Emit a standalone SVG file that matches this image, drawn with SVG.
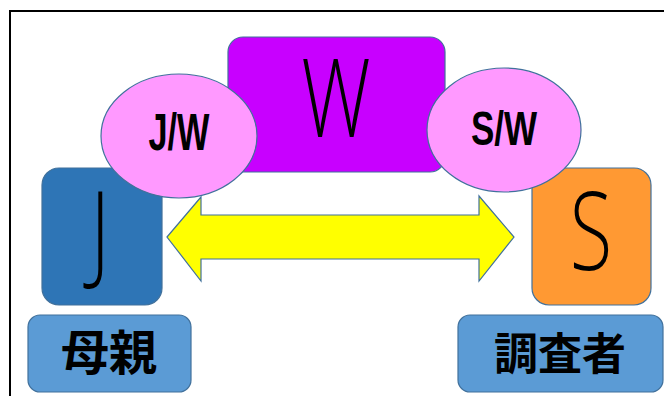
<svg xmlns="http://www.w3.org/2000/svg" width="664" height="396" viewBox="0 0 664 396">
  <style>
    .edge { stroke: #41719C; stroke-width: 1.2; }
    .big { font-family: "Open Sans", "Liberation Sans", sans-serif; font-weight: 300; font-size: 108px; fill: #000; text-anchor: middle; }
    .mid { font-family: "Liberation Sans", "DejaVu Sans", sans-serif; font-weight: bold; fill: #000; text-anchor: middle; }
    .cjk { font-family: "Noto Sans CJK JP", "Noto Sans CJK SC", sans-serif; font-weight: bold; fill: #000; text-anchor: middle; }
  </style>
  <rect x="0" y="0" width="664" height="396" fill="#FFFFFF"/>
  <!-- outer frame, open to the right and bottom -->
  <rect x="10" y="11" width="670" height="400" fill="none" stroke="#000" stroke-width="2"/>

  <g id="node-W">
    <rect class="edge" x="228" y="37" width="217" height="135" rx="15" fill="#C800FF"/>
    <text class="big" transform="translate(336 137) scale(0.72 1)">W</text>
  </g>

  <g id="connectors">
    <polygon class="edge" fill="#FFFF00" points="167,237 201,197 201,215 479,215 479,196 514,237 479,281 479,259 201,259 201,281"/>
  </g>

  <g id="node-J">
    <rect class="edge" x="42" y="168" width="120" height="137" rx="17" fill="#2E75B6"/>
    <text class="big" transform="translate(100 269) scale(0.72 1)">J</text>
  </g>

  <g id="node-S">
    <rect class="edge" x="532" y="168" width="119" height="137" rx="17" fill="#FF9933"/>
    <text class="big" transform="translate(591 270) scale(0.72 1)">S</text>
  </g>

  <g id="node-JW">
    <ellipse class="edge" cx="179" cy="136" rx="78" ry="62" fill="#FF99FF"/>
    <text class="mid" font-size="52" transform="translate(179 150) scale(0.66 1)">J/W</text>
  </g>

  <g id="node-SW">
    <ellipse class="edge" cx="504" cy="130" rx="77" ry="62" fill="#FF99FF"/>
    <text class="mid" font-size="48" transform="translate(504 145) scale(0.73 1)">S/W</text>
  </g>

  <g id="label-mother">
    <rect class="edge" x="28" y="315" width="163" height="77" rx="12" fill="#5B9BD5"/>
    <text class="cjk" x="109" y="370" font-size="48">母親</text>
  </g>

  <g id="label-investigator">
    <rect class="edge" x="458" y="315" width="205" height="77" rx="12" fill="#5B9BD5"/>
    <text class="cjk" x="560" y="370" font-size="44">調査者</text>
  </g>
</svg>
